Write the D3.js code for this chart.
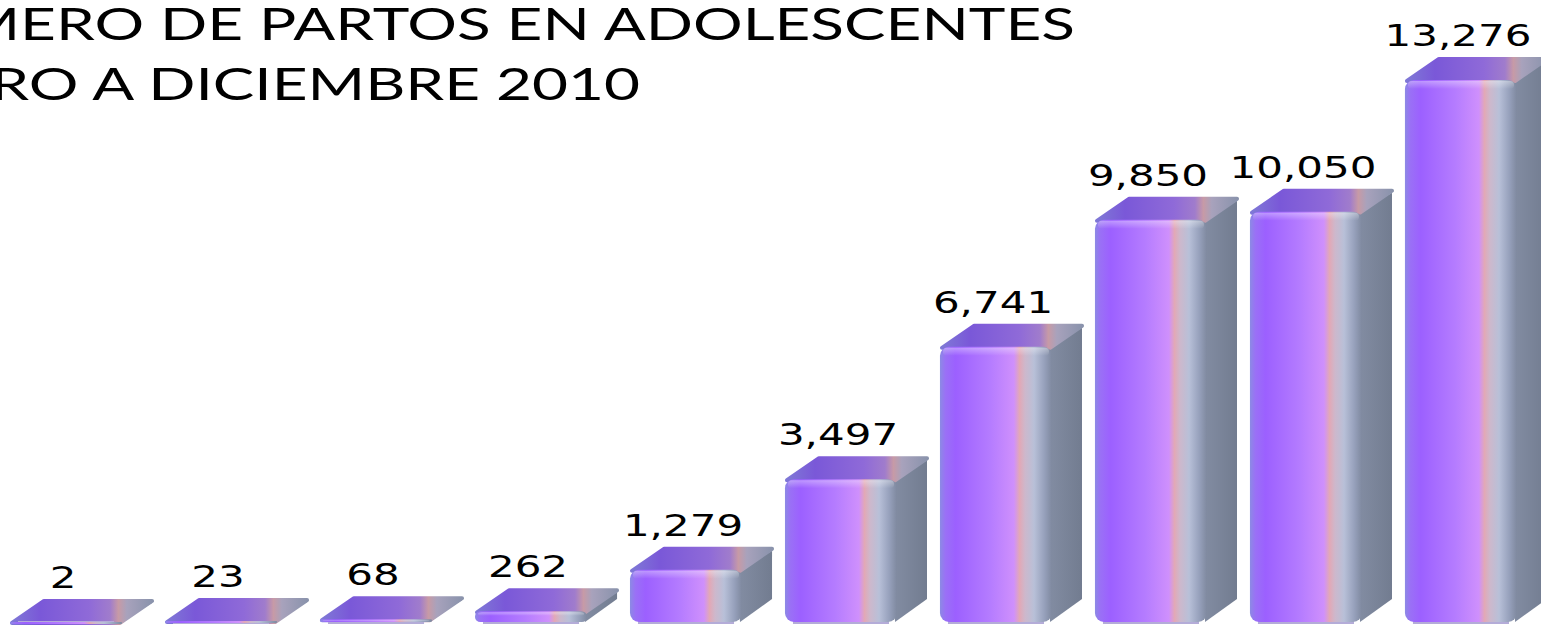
<!DOCTYPE html>
<html lang="es">
  <head>
    <meta charset="utf-8">
    <title>Partos en adolescentes 2010</title>
    <script type="text/javascript" src="https://cdn.jsdelivr.net/npm/d3@7"></script>
<style>
body { margin: 0; background: #fff; overflow: hidden; }
</style>
  </head>
  <body>
    <script type="text/javascript">
      // edades (no se ven en la imagen, quedan fuera del recorte)
      var categories = ["10", "11", "12", "13", "14", "15", "16", "17", "18", "19"];
      var values = [2, 23, 68, 262, 1279, 3497, 6741, 9850, 10050, 13276];
      var titleLines = ["NÚMERO DE PARTOS EN ADOLESCENTES", "ENERO A DICIEMBRE 2010"];

      var width = 1541;
      var height = 627;
      var stretch = 1.4;   // the original picture is stretched sideways
      var depthX = 32, depthY = 23;

      var svg = d3.select("body").append("svg")
        .attr("width", width)
        .attr("height", height);

      var defs = svg.append("defs");

      var frontGrad = defs.append("linearGradient").attr("id", "front")
        .attr("x1", "0%").attr("x2", "100%").attr("y1", "0%").attr("y2", "0%");
      [["0%", "#8c8ae4"], ["5%", "#9a70f6"], ["14%", "#9c60ff"], ["45%", "#b57cff"],
       ["66%", "#cf90fc"], ["71%", "#e2a8b6"], ["76%", "#cdb8cc"], ["84%", "#b8c0d8"],
       ["93%", "#97a1bc"], ["100%", "#7f899f"]].forEach(function(s) {
        frontGrad.append("stop").attr("offset", s[0]).attr("stop-color", s[1]);
      });

      var topGrad = defs.append("linearGradient").attr("id", "topface")
        .attr("x1", "0%").attr("x2", "100%").attr("y1", "0%").attr("y2", "0%");
      [["0%", "#7f78d6"], ["20%", "#7a58d8"], ["55%", "#8f6ad8"], ["70%", "#a07ccc"],
       ["76%", "#c79aa6"], ["82%", "#a8a2bc"], ["100%", "#8a93ac"]].forEach(function(s) {
        topGrad.append("stop").attr("offset", s[0]).attr("stop-color", s[1]);
      });

      var sideGrad = defs.append("linearGradient").attr("id", "side")
        .attr("x1", "0%").attr("x2", "100%").attr("y1", "0%").attr("y2", "0%");
      sideGrad.append("stop").attr("offset", "0%").attr("stop-color", "#848ea4");
      sideGrad.append("stop").attr("offset", "100%").attr("stop-color", "#727c90");

      var hiGrad = defs.append("linearGradient").attr("id", "hi")
        .attr("x1", "0%").attr("x2", "0%").attr("y1", "0%").attr("y2", "100%");
      hiGrad.append("stop").attr("offset", "0%").attr("stop-color", "#ffffff").attr("stop-opacity", 0.35);
      hiGrad.append("stop").attr("offset", "100%").attr("stop-color", "#ffffff").attr("stop-opacity", 0);

      var x = d3.scaleBand()
        .domain(categories)
        .range([10, 1517])
        .paddingInner(0.277)
        .paddingOuter(0)
        .align(0);

      var y = d3.scaleLinear()
        .domain([0, 13276])
        .range([622, 80]);

      var bars = svg.selectAll("g.bar")
        .data(values)
        .enter()
        .append("g")
        .attr("class", "bar");

      var bw = x.bandwidth();

      // side face
      bars.append("path")
        .attr("fill", "url(#side)")
        .attr("d", function(d, i) {
          var x0 = x(categories[i]) + bw - 6, yt = y(d), yb = y(0);
          return "M" + x0 + "," + (yt + 2) +
            "L" + (x0 + depthX + 4) + "," + (yt - depthY + 4) +
            "L" + (x0 + depthX + 4) + "," + (yb - depthY) +
            "L" + (x0 + 4) + "," + yb + "Z";
        });

      // top face
      bars.append("path")
        .attr("fill", "url(#topface)")
        .attr("stroke", "url(#topface)")
        .attr("stroke-width", 4)
        .attr("stroke-linejoin", "round")
        .attr("d", function(d, i) {
          var x0 = x(categories[i]) + 2, yt = y(d);
          return "M" + x0 + "," + (yt + 1) +
            "L" + (x0 + depthX) + "," + (yt - depthY + 2) +
            "L" + (x0 + bw + depthX - 4) + "," + (yt - depthY + 2) +
            "L" + (x0 + bw - 4) + "," + (yt + 1) + "Z";
        });

      // shadow line under the front face
      bars.append("rect")
        .attr("x", function(d, i) { return x(categories[i]) + 8; })
        .attr("y", y(0) - 1)
        .attr("width", bw - 16)
        .attr("height", 3)
        .attr("fill", "#b4acd8");

      // front face
      bars.append("rect")
        .attr("x", function(d, i) { return x(categories[i]); })
        .attr("y", function(d) { return y(d); })
        .attr("width", bw)
        .attr("height", function(d) { return Math.max(2, y(0) - y(d)); })
        .attr("rx", function(d) { return Math.min(9, Math.max(1, (y(0) - y(d)) / 2)); })
        .attr("fill", "url(#front)");

      // soft highlight on top edge of front face
      bars.append("rect")
        .attr("x", function(d, i) { return x(categories[i]) + 3; })
        .attr("y", function(d) { return y(d) + 1; })
        .attr("width", bw - 6)
        .attr("height", function(d) { return Math.min(8, Math.max(0, (y(0) - y(d)) / 3)); })
        .attr("rx", 4)
        .attr("fill", "url(#hi)");

      // value labels
      var fmt = d3.format(",");
      bars.append("text")
        .text(function(d) { return fmt(d); })
        .attr("transform", function(d, i) {
          var cx = x(categories[i]) + bw / 2 - 3;
          return "translate(" + cx + "," + (y(d) - 34) + ") scale(" + stretch + ",1)";
        })
        .attr("font-family", "DejaVu Sans, sans-serif")
        .attr("font-size", "30px")
        .attr("fill", "#000")
        .attr("text-anchor", "middle");

      // title, clipped on the left like the original
      var titleEnds = [1075, 640];
      var titleBase = [40, 100];
      svg.selectAll("text.title")
        .data(titleLines)
        .enter()
        .append("text")
        .attr("class", "title")
        .text(function(d) { return d; })
        .attr("transform", function(d, i) {
          return "translate(" + titleEnds[i] + "," + titleBase[i] + ") scale(1.38,1)";
        })
        .attr("font-family", "Lato, sans-serif")
        .attr("font-size", "45px")
        .attr("fill", "#000")
        .attr("text-anchor", "end");
    </script>
  </body>
</html>
